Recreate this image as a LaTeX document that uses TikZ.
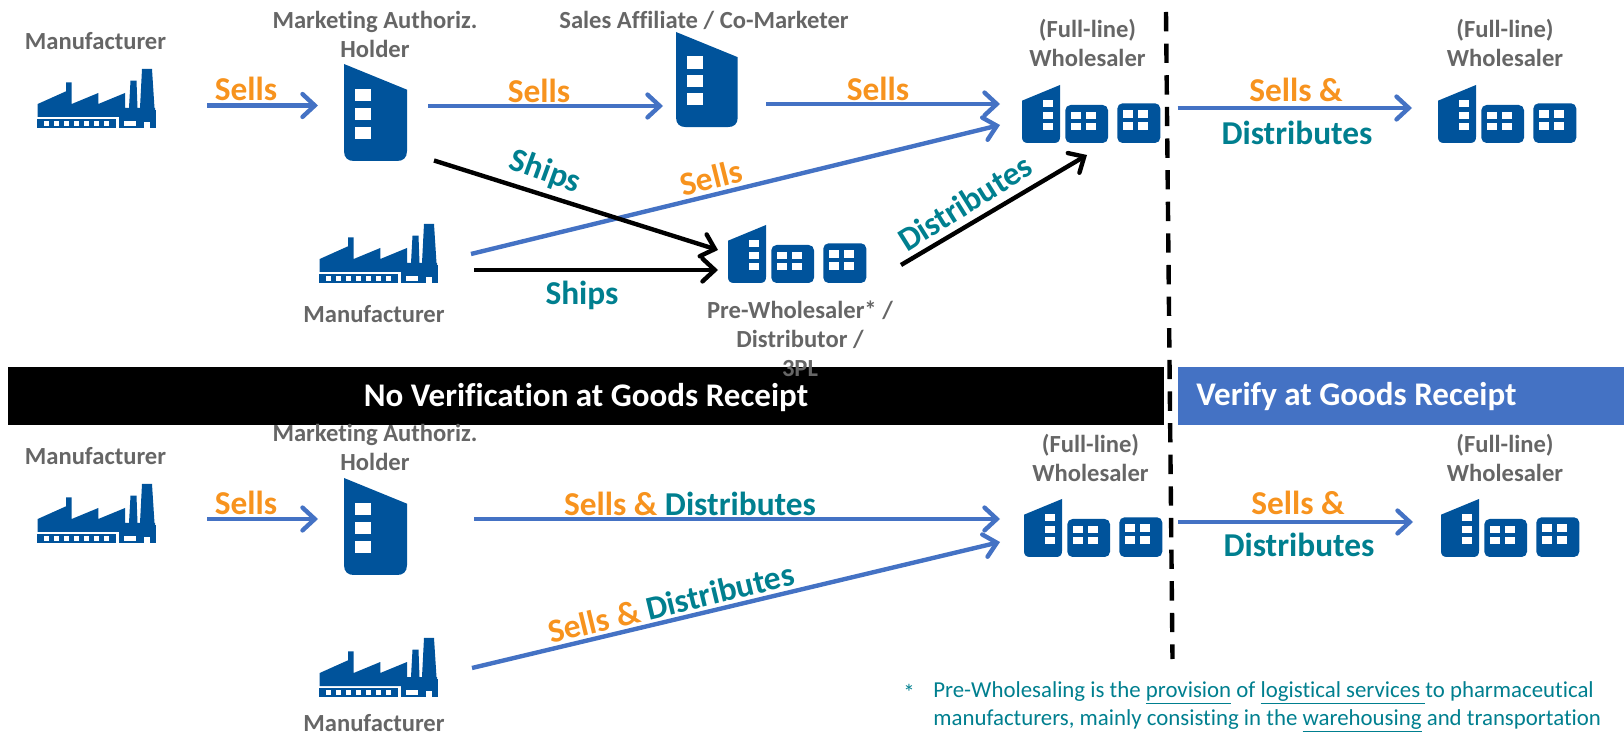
\documentclass[tikz,border=0pt]{standalone}
\usepackage{fontspec}
\setmainfont{Carlito}[Ligatures=NoCommon]
\usepackage{xcolor}
\usetikzlibrary{arrows.meta}
\definecolor{icon}{HTML}{00539B}
\definecolor{flow}{HTML}{4472C4}
\definecolor{sell}{HTML}{F7931E}
\definecolor{ship}{HTML}{007F8F}
\definecolor{actor}{HTML}{666666}
\newcommand{\winrect}[4]{\fill[white] (#1,#2) rectangle (#3,#4);}
\tikzset{
	factory/.pic={
		\fill[icon] (0.7,35) -- (29,22.3) -- (29,13.3) -- (34.7,13.3) -- (34.7,35) -- (61.3,24) -- (61.3,35) -- (88,24) -- (88,39) -- (118,39) -- (118,48) -- (0.7,48) -- cycle;
		\fill[icon] (92,39) -- (93.5,11.7) -- (99.5,11.7) -- (100.5,39) -- cycle;
		\fill[icon] (103,39) -- (105,0) -- (115,0) -- (117.5,39) -- cycle;
		\fill[icon] (0,50) rectangle (79,59);
		\fill[icon] (82,41) rectangle (118.5,59);
		\foreach \wx in {7.3,17.2,27.1,37,46.9,56.8,66.7}{
			\winrect{\wx}{52.3}{\wx+5}{57.3}
		}
		\winrect{87.3}{52.3}{99}{57.3}
		\winrect{106.7}{53.3}{113.3}{59}
	},
	tower/.pic={
		\fill[icon] (0,0) -- (63,25.7) -- (63,87) .. controls (63,94) and (59,97) .. (53,97) -- (10,97) .. controls (4,97) and (0,94) .. (0,87) -- cycle;
		\foreach \wy in {25,44,62.7}{
			\winrect{11}{\wy}{27.3}{\wy+12.3}
		}
	},
	depot/.pic={
		\fill[icon] (0,15.7) -- (38,0) -- (38,52) .. controls (38,56) and (36,58) .. (32,58) -- (6,58) .. controls (2,58) and (0,56) .. (0,52) -- cycle;
		\foreach \wy in {15,26.7,38}{
			\winrect{21.3}{\wy}{31.3}{\wy+7.5}
		}
		\fill[icon,rounded corners=3pt] (43.3,20) rectangle (86,58);
		\fill[icon,rounded corners=3pt] (95.3,18.3) rectangle (138.3,58);
		\foreach \wy in {26.7,38}{
			\winrect{49}{\wy}{58.7}{\wy+7.5}
			\winrect{64.3}{\wy}{74}{\wy+7.5}
		}
		\foreach \wy in {25,37.3}{
			\winrect{100.7}{\wy}{110.7}{\wy+8}
			\winrect{116}{\wy}{126}{\wy+8}
		}
	}
}

\begin{document}
\begin{tikzpicture}[x=0.02cm,y=-0.02cm,>={Straight Barb[length=7pt,width=13pt,line cap=round]}]
	\tikzstyle{actor label}=[text=actor,font=\bfseries\fontsize{14}{16.5}\selectfont,align=center,inner sep=0pt]
	\tikzstyle{sell label}=[text=sell,font=\bfseries\fontsize{19}{22}\selectfont,inner sep=0pt]
	\tikzstyle{ship label}=[text=ship,font=\bfseries\fontsize{19}{22}\selectfont,inner sep=0pt]
	\tikzstyle{bar label}=[text=white,font=\bfseries\fontsize{18.8}{22}\selectfont,inner sep=0pt]
	\tikzstyle{money}=[->,draw=flow,line width=2.5pt]
	\tikzstyle{goods}=[->,draw=black,line width=2.5pt]
	
	\useasboundingbox (0,0) rectangle (1624,736);
	
	\node[fill=black,minimum width=23.12cm,minimum height=1.16cm,inner sep=0pt,anchor=north west] (noverify) at (8,367) {};
	\node[fill=flow,minimum width=8.93cm,minimum height=1.16cm,inner sep=0pt,anchor=north west] (verify) at (1177.5,367) {};
	\node[bar label] (noverifytext) at (586,398) {No Verification at Goods Receipt};
	\node[bar label] (verifytext) at (1356.5,397) {Verify at Goods Receipt};
	
	\pic at (37,69) {factory};
	\pic at (344,64) {tower};
	\pic[scale=0.98] at (676,32) {tower};
	\pic at (1022,85) {depot};
	\pic at (1438,85) {depot};
	\pic at (319,224) {factory};
	\pic at (728,225) {depot};
	\pic at (37,484) {factory};
	\pic at (344,478) {tower};
	\pic at (1024,499) {depot};
	\pic at (1441,499) {depot};
	\pic at (319,638) {factory};
	
	\node[actor label] (mfrA) at (95.5,41.5) {Manufacturer};
	\node[actor label] (mahA) at (375,34) {Marketing Authoriz.\\Holder};
	\node[actor label] (affiliate) at (704,20) {Sales Affiliate / Co-Marketer};
	\node[actor label] (whA) at (1087.5,43) {(Full-line)\\Wholesaler};
	\node[actor label] (whB) at (1505,43) {(Full-line)\\Wholesaler};
	\node[actor label] (mfrB) at (374,314) {Manufacturer};
	\node[actor label] (prewh) at (800,339) {Pre-Wholesaler* /\\Distributor /\\3PL};
	\node[actor label] (mfrC) at (95.5,456) {Manufacturer};
	\node[actor label] (mahB) at (375,447.5) {Marketing Authoriz.\\Holder};
	\node[actor label] (whC) at (1090.5,457.5) {(Full-line)\\Wholesaler};
	\node[actor label] (whD) at (1505,457.5) {(Full-line)\\Wholesaler};
	\node[actor label] (mfrD) at (374,723) {Manufacturer};
	
	% connector ends
	\coordinate (mfrAout) at (207,105.5);
	\coordinate (mahAin) at (318,105.5);
	\coordinate (mahAout) at (428,106);
	\coordinate (affin) at (663,106);
	\coordinate (affout) at (766,104);
	\coordinate (whAin) at (1000,104);
	\coordinate (mfrBsell) at (471,254);
	\coordinate (whAin2) at (1000,125);
	\coordinate (mahAship) at (434,160.5);
	\coordinate (prewhin) at (718,250);
	\coordinate (mfrBship) at (474,270);
	\coordinate (prewhin2) at (718,270);
	\coordinate (prewhout) at (901,265);
	\coordinate (whAin3) at (1087,155);
	\coordinate (whAout) at (1177.5,108);
	\coordinate (whBin) at (1412,108);
	\coordinate (mfrCout) at (207,519);
	\coordinate (mahBin) at (318,519);
	\coordinate (mahBout) at (474,519);
	\coordinate (whCin) at (1000,519);
	\coordinate (mfrDout) at (472,668);
	\coordinate (whCin2) at (1000,542);
	\coordinate (whCout) at (1178,522);
	\coordinate (whDin) at (1413,522);
	\coordinate (splittop) at (1166,12);
	\coordinate (splitbot) at (1172.5,659);
	
	\path
	
	(mfrAout) edge[money] (mahAin)
	
	(mahAout) edge[money] (affin)
	
	(affout) edge[money] (whAin)
	
	(mfrBsell) edge[money] (whAin2)
	
	(mahAship) edge[goods] (prewhin)
	
	(mfrBship) edge[goods] (prewhin2)
	
	(prewhout) edge[goods] (whAin3)
	
	(whAout) edge[money] (whBin)
	
	(mfrCout) edge[money] (mahBin)
	
	(mahBout) edge[money] (whCin)
	
	(mfrDout) edge[money] (whCin2)
	
	(whCout) edge[money] (whDin);
	
	\draw[line width=2.5pt,dash pattern=on 11pt off 7pt] (splittop) -- (splitbot);
	
	\node[sell label] (sellA) at (246,89) {Sells};
	\node[sell label] (sellB) at (539,91) {Sells};
	\node[sell label] (sellC) at (878,89) {Sells};
	\node[sell label,rotate=14] (sellD) at (711,178) {Sells};
	\node[ship label,rotate=-20] (shipA) at (545,172) {Ships};
	\node[ship label] (shipB) at (582,295) {Ships};
	\node[ship label,rotate=32] (distA) at (965,203) {Distributes};
	\node[sell label] (sellE) at (1296,90) {Sells \&};
	\node[ship label] (distB) at (1297,132.5) {Distributes};
	\node[sell label] (sellF) at (246,503) {Sells};
	\node[sell label] (selldistA) at (690,504) {Sells \& \textcolor{ship}{Distributes}};
	\node[sell label,rotate=13.5] (selldistB) at (671,603) {Sells \& \textcolor{ship}{Distributes}};
	\node[sell label] (sellG) at (1298,503) {Sells \&};
	\node[ship label] (distC) at (1299,545) {Distributes};
	
	\node[text=ship,font=\fontsize{13}{15.9}\selectfont,inner sep=0pt] (star) at (909,692) {*};
	\node[text=ship,font=\fontsize{13}{15.9}\selectfont,inner sep=0pt,align=left,anchor=west] (footnote) at (933,707) {Pre-Wholesaling is the \underline{provision} of \underline{logistical services }to pharmaceutical\\manufacturers, mainly consisting in the \underline{warehousing} and transportation};
\end{tikzpicture}
\end{document}
